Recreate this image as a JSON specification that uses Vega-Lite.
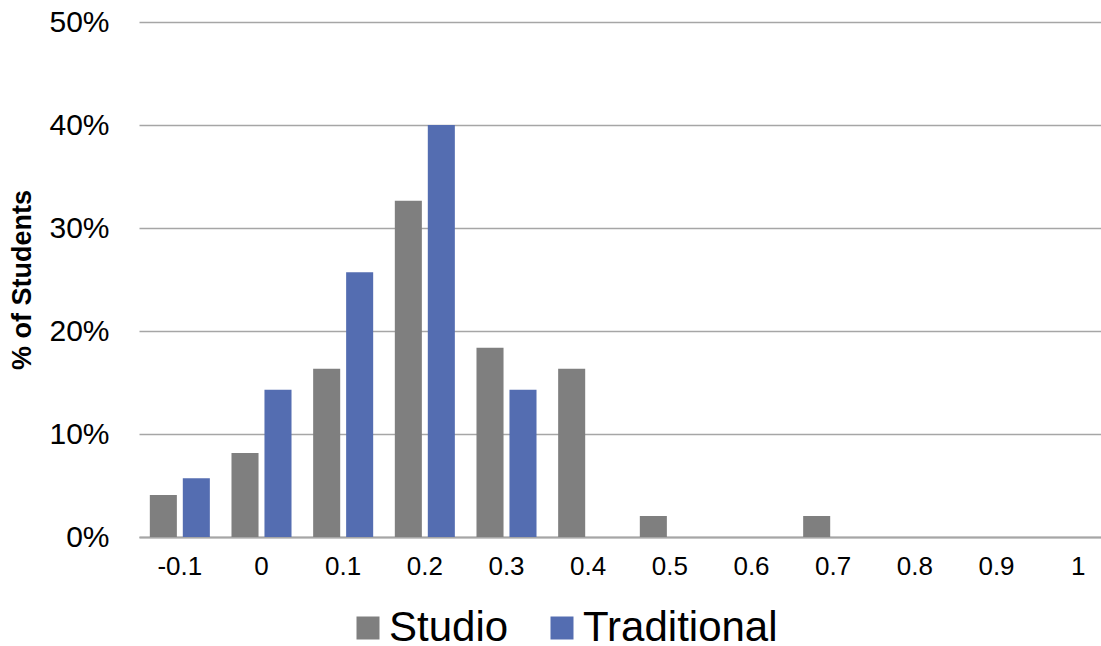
{
  "$schema": "https://vega.github.io/schema/vega-lite/v6.json",
  "width": 980,
  "height": 515,
  "autosize": {"type": "none"},
  "padding": {"left": 139, "top": 22, "right": 0, "bottom": 160},
  "background": "white",
  "config": {
    "font": "Liberation Sans",
    "view": {"stroke": null}
  },
  "data": {
    "values": [
      {"gain": "-0.1", "group": "Studio", "share": 0.0408},
      {"gain": "0", "group": "Studio", "share": 0.0816},
      {"gain": "0.1", "group": "Studio", "share": 0.1633},
      {"gain": "0.2", "group": "Studio", "share": 0.3265},
      {"gain": "0.3", "group": "Studio", "share": 0.1837},
      {"gain": "0.4", "group": "Studio", "share": 0.1633},
      {"gain": "0.5", "group": "Studio", "share": 0.0204},
      {"gain": "0.7", "group": "Studio", "share": 0.0204},
      {"gain": "-0.1", "group": "Traditional", "share": 0.0571},
      {"gain": "0", "group": "Traditional", "share": 0.1429},
      {"gain": "0.1", "group": "Traditional", "share": 0.2571},
      {"gain": "0.2", "group": "Traditional", "share": 0.4},
      {"gain": "0.3", "group": "Traditional", "share": 0.1429}
    ]
  },
  "mark": {"type": "bar"},
  "encoding": {
    "x": {
      "field": "gain",
      "type": "nominal",
      "sort": null,
      "scale": {
        "domain": ["-0.1", "0", "0.1", "0.2", "0.3", "0.4", "0.5", "0.6", "0.7", "0.8", "0.9", "1"],
        "paddingInner": 0.265,
        "paddingOuter": 0.1325
      },
      "axis": {
        "title": null,
        "labelAngle": 0,
        "labelFontSize": 26,
        "labelColor": "#000000",
        "labelPadding": 16,
        "ticks": false,
        "domainColor": "#a6a6a6",
        "domainWidth": 2,
        "grid": false
      }
    },
    "xOffset": {
      "field": "group",
      "type": "nominal",
      "scale": {"paddingInner": 0.18, "paddingOuter": 0}
    },
    "y": {
      "field": "share",
      "type": "quantitative",
      "scale": {"domain": [0, 0.5], "nice": false},
      "axis": {
        "title": "% of Students",
        "titleFontSize": 27,
        "titleFontWeight": "bold",
        "titleColor": "#000000",
        "titlePadding": 12,
        "values": [0, 0.1, 0.2, 0.3, 0.4, 0.5],
        "format": ".0%",
        "labelFontSize": 30,
        "labelColor": "#000000",
        "labelPadding": 30,
        "ticks": false,
        "domain": false,
        "grid": true,
        "gridColor": "#a6a6a6",
        "gridWidth": 1.5
      }
    },
    "color": {
      "field": "group",
      "type": "nominal",
      "scale": {"domain": ["Studio", "Traditional"], "range": ["#7f7f7f", "#546db1"]},
      "legend": {
        "title": null,
        "orient": "none",
        "direction": "horizontal",
        "legendX": 208,
        "legendY": 585,
        "symbolType": "square",
        "symbolSize": 529,
        "symbolStrokeWidth": 0,
        "symbolOpacity": 1,
        "labelFontSize": 42,
        "labelLimit": 400,
        "labelColor": "#000000",
        "labelOffset": 0,
        "columnPadding": 32
      }
    }
  }
}
